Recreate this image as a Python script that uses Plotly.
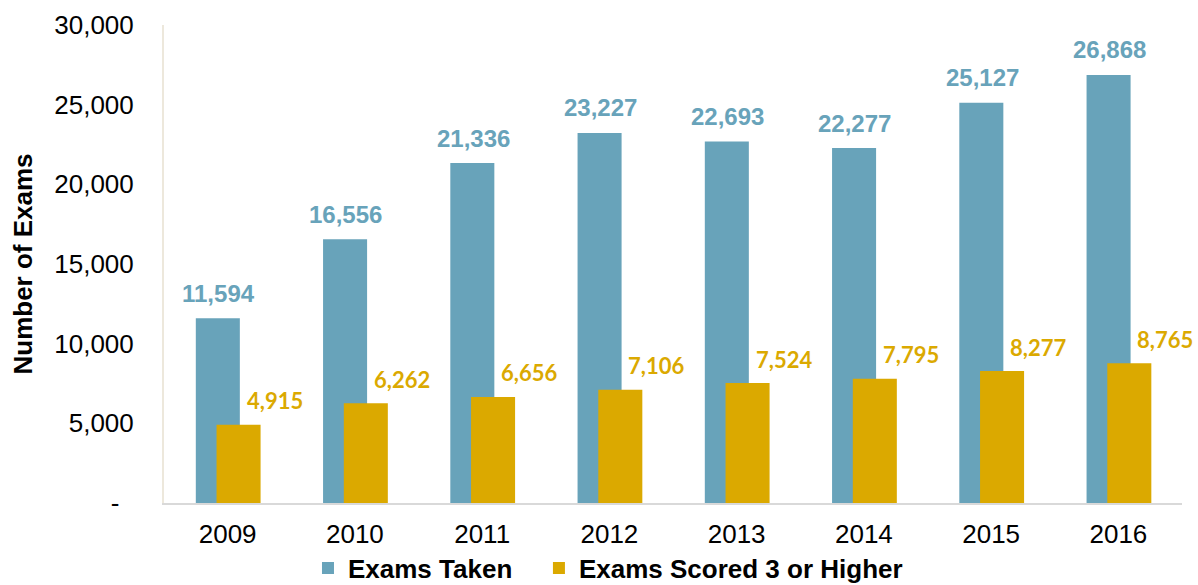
import plotly.graph_objects as go

years = ["2009", "2010", "2011", "2012", "2013", "2014", "2015", "2016"]
exams_taken = [11594, 16556, 21336, 23227, 22693, 22277, 25127, 26868]
exams_scored3 = [4915, 6262, 6656, 7106, 7524, 7795, 8277, 8765]
y_tickvals = [0, 5000, 10000, 15000, 20000, 25000, 30000]
y_ticktext = ["-\u00a0\u00a0", "5,000", "10,000", "15,000", "20,000", "25,000", "30,000"]

BLUE = "#68a3ba"
GOLD = "#dba900"

fig = go.Figure()
fig.add_trace(go.Bar(x=years, y=exams_taken, name="<b>Exams Taken</b>\u00a0\u00a0\u00a0",
                     marker=dict(color=BLUE, line=dict(width=0)),
                     width=0.346, offset=-0.25))
fig.add_trace(go.Bar(x=years, y=exams_scored3, name="<b>Exams Scored 3 or Higher</b>",
                     marker=dict(color=GOLD, line=dict(width=0)),
                     width=0.346, offset=-0.087))

annotations = []
for i, v in enumerate(exams_taken):
    annotations.append(dict(x=i, y=v, xref="x", yref="y", text=f"<b>{v:,}</b>", showarrow=False,
                            xanchor="center", yanchor="middle", xshift=-9, yshift=25,
                            font=dict(family="Liberation Sans, Arial", size=24, color=BLUE)))
for i, v in enumerate(exams_scored3):
    annotations.append(dict(x=i, y=v, xref="x", yref="y", text=f"<b>{v:,}</b>", showarrow=False,
                            xanchor="center", yanchor="middle", xshift=47, yshift=24,
                            font=dict(family="Lato", size=22, color=GOLD)))

fig.update_layout(
    barmode="overlay",
    width=1198, height=585,
    margin=dict(l=164, r=16, t=25, b=82, autoexpand=False),
    plot_bgcolor="white", paper_bgcolor="white",
    font=dict(family="Liberation Sans, Arial", size=26, color="black"),
    annotations=annotations,
    showlegend=True,
    hovermode=False,
    legend=dict(orientation="h", x=0.5075, xanchor="center", xref="container",
                y=0.029, yanchor="middle", yref="container",
                bgcolor="rgba(0,0,0,0)",
                font=dict(family="Liberation Sans, Arial", size=26, color="black"),
                itemwidth=30, traceorder="normal"),
    xaxis=dict(type="category", showline=True, linecolor="#d9d9d9", linewidth=2, ticks="",
               ticklabelstandoff=7, tickfont=dict(size=26),
               range=[-0.5, 7.5], automargin=False),
    yaxis=dict(range=[0, 30000], tickvals=y_tickvals, ticktext=y_ticktext,
               showgrid=False, zeroline=False, showline=True, linecolor="#ede8dc",
               linewidth=2, ticks="", ticklabelstandoff=23, tickfont=dict(size=26),
               automargin=False,
               title=dict(text="<b>Number of Exams</b>", font=dict(size=26), standoff=14)),
)

fig.write_html("out.html", config={"displayModeBar": False},
               post_script="document.body.style.margin='0';document.body.style.overflow='hidden';")
